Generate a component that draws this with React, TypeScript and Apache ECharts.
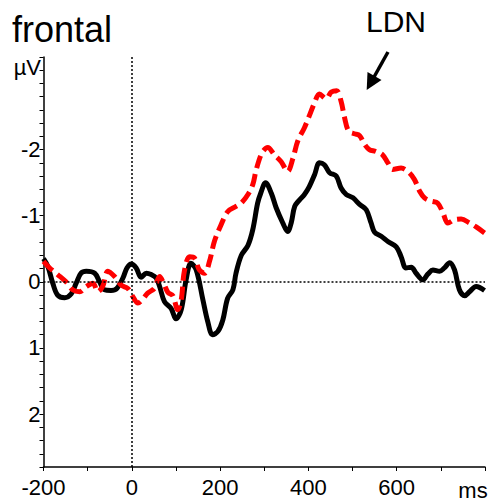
import React, { useEffect, useRef } from "react";
import * as echarts from "echarts";

// Black (solid) waveform
const blackTimes = [-200, -190, -179, -168, -152, -137, -126, -115, -103, -84, -73, -62, -47, -34, -20, -11, -1, 10, 21, 33, 44, 55, 63, 74, 89, 100, 112, 123, 134, 146, 161, 172, 183, 195, 206, 217, 229, 236, 248, 263, 274, 285, 292, 303, 316, 327, 342, 353, 361, 369, 380, 391, 402, 414, 425, 436, 448, 463, 474, 486, 501, 516, 531, 542, 550, 565, 580, 599, 610, 621, 633, 644, 659, 671, 682, 697, 708, 720, 731, 742, 754, 765, 780, 799];
const blackValues = [-0.35, -0.23, 0.02, 0.2, 0.24, 0.18, 0.02, -0.13, -0.16, -0.13, 0, 0.12, 0.13, 0.1, -0.06, -0.21, -0.27, -0.21, -0.07, -0.13, -0.11, -0.06, 0.07, 0.3, 0.4, 0.56, 0.42, -0.03, -0.28, -0.18, 0.27, 0.6, 0.8, 0.75, 0.58, 0.25, 0.12, -0.13, -0.4, -0.55, -0.79, -1.19, -1.34, -1.5, -1.34, -1.12, -0.89, -0.76, -0.89, -1.14, -1.24, -1.32, -1.44, -1.62, -1.8, -1.77, -1.65, -1.6, -1.42, -1.32, -1.27, -1.17, -1.09, -0.89, -0.75, -0.69, -0.61, -0.53, -0.38, -0.21, -0.22, -0.13, -0.03, -0.12, -0.18, -0.16, -0.21, -0.29, -0.18, 0.12, 0.21, 0.15, 0.07, 0.13];

// Red (dashed) waveform
const redTimes = [-200, -186, -168, -149, -134, -118, -103, -88, -77, -66, -54, -39, -24, -9, 2, 14, 25, 36, 51, 63, 72, 82, 93, 104, 112, 119, 131, 142, 153, 165, 176, 187, 202, 217, 236, 248, 263, 274, 282, 295, 308, 323, 338, 353, 365, 376, 391, 402, 414, 425, 440, 452, 464, 474, 482, 491, 504, 516, 527, 538, 553, 568, 580, 591, 610, 625, 640, 652, 663, 678, 693, 705, 716, 731, 746, 765, 780, 799];
const redValues = [-0.31, -0.21, -0.11, 0, 0.12, 0.15, 0.07, 0.02, 0.15, 0.07, -0.16, -0.08, 0.05, 0.1, 0.22, 0.32, 0.26, 0.17, 0.1, -0.08, 0.02, 0.16, 0.21, 0.42, 0.27, -0.16, -0.38, -0.36, -0.18, -0.13, -0.31, -0.61, -0.86, -1.06, -1.14, -1.19, -1.32, -1.47, -1.7, -1.95, -2.03, -1.92, -1.82, -1.67, -1.87, -2.13, -2.33, -2.51, -2.71, -2.84, -2.77, -2.87, -2.89, -2.73, -2.48, -2.28, -2.24, -2.21, -2.08, -2.0, -1.97, -1.92, -1.8, -1.7, -1.72, -1.67, -1.55, -1.37, -1.27, -1.22, -1.19, -1.04, -0.89, -0.94, -0.95, -0.89, -0.83, -0.74];

const xLabelValues = [-200, 0, 200, 400, 600];
const yLabelValues = [-2, -1, 0, 1, 2];

const FONT = "Liberation Sans, Arial, sans-serif";

export default function App() {
  const ref = useRef<HTMLDivElement>(null);
  useEffect(() => {
    if (!ref.current) return;
    const chart = echarts.init(ref.current, null, { renderer: "svg" });
    const black = blackTimes.map((t, i) => [t, blackValues[i]]);
    const red = redTimes.map((t, i) => [t, redValues[i]]);
    chart.setOption({
      animation: false,
      backgroundColor: "#ffffff",
      grid: { left: 43.5, right: 5, top: 57, bottom: 35, containLabel: false },
      xAxis: {
        type: "value",
        min: -200,
        max: 800,
        interval: 100,
        axisLine: { onZero: false, lineStyle: { color: "#000", width: 1.5 } },
        axisTick: { show: true, inside: false, length: 4, lineStyle: { color: "#000", width: 1 } },
        splitLine: { show: false },
        axisLabel: {
          color: "#000",
          fontSize: 22,
          fontFamily: FONT,
          margin: 9,
          showMaxLabel: true,
          formatter: (v: number) => (xLabelValues.indexOf(Math.round(v)) >= 0 ? String(Math.round(v)) : ""),
        },
      },
      yAxis: {
        type: "value",
        inverse: true,
        min: -3.4,
        max: 2.8,
        interval: 0.2,
        axisLine: { show: true, onZero: false, lineStyle: { color: "#000", width: 1.5 } },
        axisTick: { show: true, inside: false, length: 4, lineStyle: { color: "#000", width: 1 } },
        splitLine: { show: false },
        axisLabel: {
          color: "#000",
          fontSize: 22,
          fontFamily: FONT,
          margin: 3,
          formatter: (v: number) => {
            const r = Math.round(v);
            return Math.abs(v - r) < 1e-6 && yLabelValues.indexOf(r) >= 0 ? String(r) : "";
          },
        },
      },
      series: [
        {
          type: "line",
          data: black,
          smooth: 0.35,
          showSymbol: false,
          symbol: "none",
          lineStyle: { color: "#000", width: 5 },
          z: 3,
          markLine: {
            silent: true,
            symbol: "none",
            label: { show: false },
            lineStyle: { color: "#000", type: [2, 2], width: 1.5 },
            data: [{ yAxis: 0 }, { xAxis: 0 }],
          },
        },
        {
          type: "line",
          data: red,
          smooth: 0.35,
          showSymbol: false,
          symbol: "none",
          lineStyle: { color: "#ff0000", width: 5, type: [13, 6] },
          z: 4,
        },
      ],
      graphic: [
        {
          type: "text",
          left: 12,
          top: 11,
          style: { text: "frontal", fontSize: 36, fontFamily: FONT, fill: "#000" },
        },
        {
          type: "text",
          left: 366,
          top: 6,
          style: { text: "LDN", fontSize: 30, fontFamily: FONT, fill: "#000" },
        },
        {
          type: "text",
          x: 41,
          y: 67,
          style: { text: "µV", fontSize: 22, fontFamily: FONT, fill: "#000", align: "right", verticalAlign: "middle" },
        },
        {
          type: "text",
          x: 473,
          y: 490,
          style: { text: "ms", fontSize: 22, fontFamily: FONT, fill: "#000", align: "center", verticalAlign: "middle" },
        },
        {
          type: "line",
          shape: { x1: 388, y1: 52, x2: 374, y2: 77 },
          style: { stroke: "#000", lineWidth: 3.5 },
        },
        {
          type: "polygon",
          shape: { points: [[366.7, 90], [381.5, 79.9], [367.5, 72.1]] },
          style: { fill: "#000" },
        },
      ],
    });
    return () => chart.dispose();
  }, []);
  return (
    <div
      ref={ref}
      style={{ position: "fixed", left: 0, top: 0, width: 490, height: 502, background: "#fff" }}
    />
  );
}
